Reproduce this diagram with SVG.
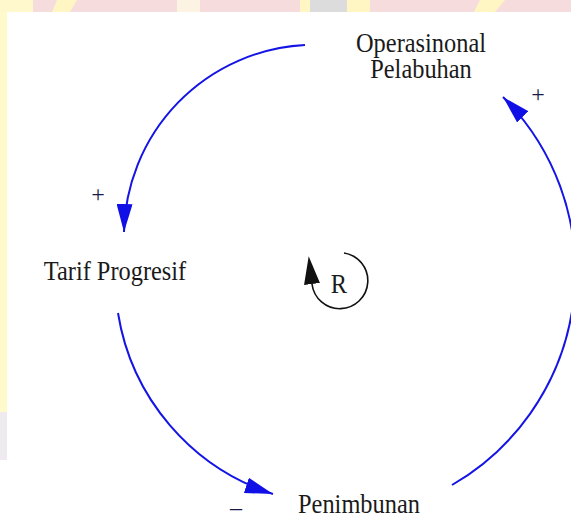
<svg xmlns="http://www.w3.org/2000/svg" width="571" height="519" viewBox="0 0 571 519">
  <style>
    .lbl { font-family: "Liberation Serif", "Times New Roman", serif; font-size: 24.4px; fill: #1a1a1a; }
    .sign { font-family: "Liberation Serif", "Times New Roman", serif; font-size: 24px; fill: #1a1a4a; }
    .link { fill: none; stroke: #1414e6; stroke-width: 2; }
    .loop { fill: none; stroke: #111; stroke-width: 1.6; }
  </style>
  <defs>
    <marker id="ah" markerUnits="userSpaceOnUse" viewBox="0 0 28 16" markerWidth="28" markerHeight="16" refX="28" refY="8" orient="auto">
      <path d="M0,0 L28,8 L0,16 Z" fill="#1010e6"/>
    </marker>
    <marker id="ahLoop" markerUnits="userSpaceOnUse" viewBox="0 0 28 16" markerWidth="28" markerHeight="16" refX="0" refY="8" orient="auto">
      <path d="M0,0 L28,8 L0,16 Z" fill="#111"/>
    </marker>
  </defs>

  <!-- background / watermark remnants -->
  <g id="background">
    <rect x="0" y="0" width="571" height="519" fill="#ffffff"/>
    <rect x="0" y="0" width="571" height="12" fill="#f6dcdc"/>
    <rect x="0" y="0" width="33" height="12" fill="#fff8cc"/>
    <polygon points="57,0 77,0 70,12 52,12" fill="#fff6c4"/>
    <rect x="177" y="0" width="23" height="12" fill="#fdf3e2"/>
    <rect x="300" y="0" width="10" height="12" fill="#fff6c4"/>
    <rect x="310" y="0" width="37" height="12" fill="#dcdcdc"/>
    <rect x="347" y="0" width="23" height="12" fill="#fff6c4"/>
    <polygon points="480,0 505,0 495,12 474,12" fill="#fff6c4"/>
    <rect x="0" y="12" width="7" height="400" fill="#fffacc"/>
    <rect x="0" y="412" width="7" height="48" fill="#eeeaf0"/>
  </g>

  <g id="connectors">
    <path class="link" d="M305,45 A191,191 0 0,0 124,232" marker-end="url(#ah)"/>
    <path class="link" d="M118,313 A228,228 0 0,0 273,494" marker-end="url(#ah)"/>
    <path class="link" d="M452,485 A246.6,246.6 0 0,0 503,97" marker-end="url(#ah)"/>
  </g>

  <g id="polarities">
    <text class="sign" x="98" y="202" text-anchor="middle">+</text>
    <text class="sign" x="538" y="102" text-anchor="middle">+</text>
    <text class="sign" x="236" y="515" text-anchor="middle">–</text>
  </g>

  <g id="node-operasinonal">
    <text class="lbl" text-anchor="middle" transform="translate(421,52) scale(1,1.08)">Operasinonal</text>
    <text class="lbl" text-anchor="middle" transform="translate(421,78) scale(1,1.08)">Pelabuhan</text>
  </g>
  <g id="node-tarif">
    <text class="lbl" text-anchor="middle" transform="translate(115,280) scale(1,1.1)">Tarif Progresif</text>
  </g>
  <g id="node-penimbunan">
    <text class="lbl" text-anchor="middle" transform="translate(359,513) scale(1,1.08)">Penimbunan</text>
  </g>

  <g id="loop-R">
    <path class="loop" d="M344,253 A28,28 0 1,1 312,284" marker-end="url(#ahLoop)"/>
    <text class="lbl" text-anchor="middle" transform="translate(339,293) scale(1,1.1)">R</text>
  </g>
</svg>
